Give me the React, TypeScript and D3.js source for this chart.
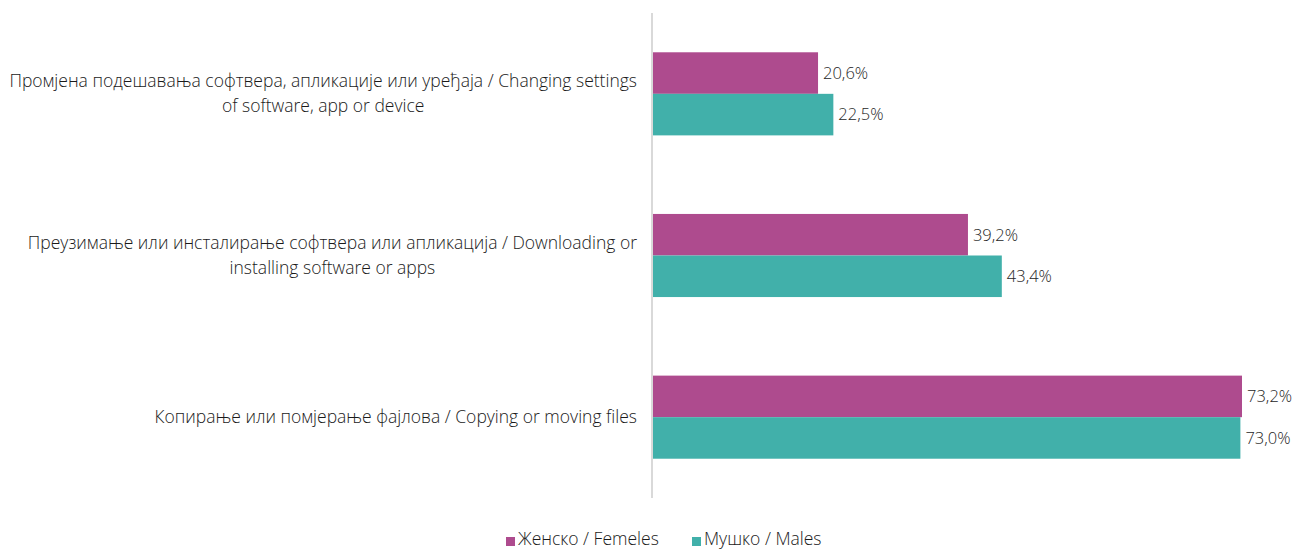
import React, { useRef, useEffect } from 'react';
import * as d3 from 'd3';

// категорије (редови графикона), сваки ред је листа линија
const categories = [
  ['Промјена подешавања софтвера, апликације или уређаја / Changing settings', 'of software, app or device'],
  ['Преузимање или инсталирање софтвера или апликација / Downloading or', 'installing  software or apps'],
  ['Копирање или помјерање фајлова / Copying or moving files'],
];
const females = [20.6, 39.2, 73.2];
const males = [22.5, 43.4, 73.0];
const seriesNames = ['Женско  / Femeles', 'Мушко / Males'];
const colors = ['#ae4b8e', '#41b0aa'];

const W = 1293;
const H = 551;
const FONT = '"Open Sans", "Segoe UI", sans-serif';

const App = () => {
  const svgRef = useRef<SVGSVGElement>(null);

  useEffect(() => {
    document.body.style.margin = '0';
    const svg = d3.select(svgRef.current);
    svg.selectAll('*').remove();

    const x = d3.scaleLinear().domain([0, 73.2]).range([652, 1242]);
    const y = d3.scaleBand<number>()
      .domain(d3.range(categories.length))
      .range([13, 498])
      .paddingInner(0.486)
      .paddingOuter(0.243);
    const inner = d3.scaleBand<number>().domain([0, 1]).range([0, y.bandwidth()]);

    const series = [females, males];
    const fmt = (v: number) => v.toFixed(1).replace('.', ',') + '%';

    series.forEach((vals, si) => {
      const g = svg.append('g');
      g.selectAll('rect')
        .data(vals)
        .enter().append('rect')
        .attr('x', x(0))
        .attr('y', (d, i) => y(i)! + inner(si)!)
        .attr('width', d => x(d) - x(0))
        .attr('height', inner.bandwidth())
        .attr('fill', colors[si]);
      g.selectAll('text')
        .data(vals)
        .enter().append('text')
        .attr('x', d => x(d) + 5)
        .attr('y', (d, i) => y(i)! + inner(si)! + inner.bandwidth() / 2)
        .attr('dy', '0.35em')
        .style('font-family', FONT)
        .style('font-weight', 300)
        .style('font-size', '16.5px')
        .style('fill', '#262626')
        .text(d => fmt(d));
    });

    // вертикална оса
    svg.append('line')
      .attr('x1', x(0)).attr('x2', x(0))
      .attr('y1', 13).attr('y2', 498)
      .attr('stroke', '#d9d9d9')
      .attr('stroke-width', 2);

    // ознаке категорија, десно поравнате, линије центриране
    const right = 637;
    const lineH = 25;
    categories.forEach((lines, i) => {
      const g = svg.append('g');
      const cy = y(i)! + y.bandwidth() / 2;
      const texts = g.selectAll('text')
        .data(lines)
        .enter().append('text')
        .attr('text-anchor', 'middle')
        .attr('y', (d, j) => cy + (j - (lines.length - 1) / 2) * lineH)
        .attr('dy', '0.35em')
        .style('font-family', FONT)
        .style('font-weight', 300)
        .style('font-size', '17.5px')
        .style('fill', '#1a1a1a')
        .text(d => d);
      let maxW = 0;
      texts.each(function () {
        maxW = Math.max(maxW, (this as SVGTextElement).getComputedTextLength());
      });
      texts.attr('x', right - maxW / 2);
    });

    // легенда
    const legend = svg.append('g');
    const items = [506, 692];
    seriesNames.forEach((name, i) => {
      legend.append('rect')
        .attr('x', items[i]).attr('y', 537)
        .attr('width', 9).attr('height', 9)
        .attr('fill', colors[i]);
      legend.append('text')
        .attr('x', items[i] + 12).attr('y', 545)
        .style('font-family', FONT)
        .style('font-weight', 300)
        .style('font-size', '17.5px')
        .style('fill', '#1a1a1a')
        .text(name);
    });
  }, []);

  return <svg ref={svgRef} width={W} height={H} style={{ display: 'block' }} />;
};

export default App;
